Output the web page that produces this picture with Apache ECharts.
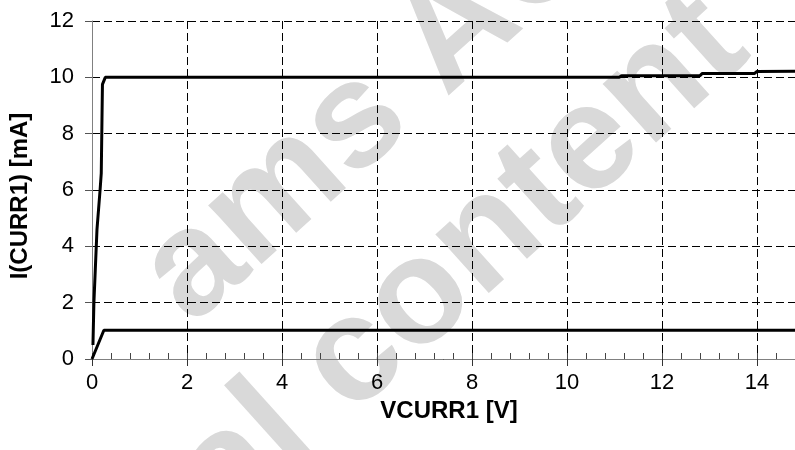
<!DOCTYPE html>
<html>
<head>
<meta charset="utf-8">
<script src="https://cdn.jsdelivr.net/npm/echarts@6/dist/echarts.min.js"></script>
<style>html,body{margin:0;padding:0;background:#fff;}#c{width:795px;height:450px;}</style>
</head>
<body>
<div id="c"></div>
<script>
// 10 mA curve
var v10 = [0.02, 0.04, 0.07, 0.105, 0.17, 0.195, 0.21, 0.22, 0.28, 11.1, 11.15, 12.8, 12.85, 13.95, 14.0, 14.8];
var i10 = [0.5, 2.0, 3.2, 4.6, 6.0, 6.6, 8.5, 9.75, 10.0, 10.0, 10.06, 10.06, 10.14, 10.14, 10.21, 10.22];
// 1 mA curve
var v1 = [0, 0.25, 14.8];
var i1 = [0, 1.02, 1.02];
var xTitle = 'VCURR1 [V]';
var yTitle = 'I(CURR1) [mA]';
var watermark1 = 'ams AG';
var watermark2 = 'Technical content';

function pairs(xs, ys) { return xs.map(function (x, k) { return [x, ys[k]]; }); }

var FONT = '"Liberation Sans", Arial, sans-serif';
var XMAX = 14.8;
var chart = echarts.init(document.getElementById('c'), null, {renderer: 'canvas'});
chart.setOption({
  animation: false,
  backgroundColor: '#fff',
  grid: {left: 90, top: 21, right: 0, bottom: 91},
  xAxis: [{
    type: 'value', min: 0, max: XMAX, interval: 2, position: 'bottom',
    name: xTitle, nameLocation: 'middle', nameGap: 38,
    nameTextStyle: {fontFamily: FONT, fontWeight: 'bold', fontSize: 24, color: '#000', padding: [0, 0, 0, 11]},
    axisLine: {show: true, lineStyle: {color: '#808080', width: 1}},
    axisTick: {show: true, length: 7, lineStyle: {color: '#333'}},
    axisLabel: {fontFamily: FONT, fontSize: 22, color: '#000', margin: 13, showMaxLabel: false},
    splitLine: {show: true, lineStyle: {color: '#000', width: 1, type: [8, 4]}}
  }, {
    type: 'value', min: 0, max: XMAX, interval: 0.4, position: 'bottom',
    axisLine: {show: false},
    axisTick: {show: true, inside: true, length: 6, lineStyle: {color: '#444'}},
    axisLabel: {show: false},
    splitLine: {show: false}
  }],
  yAxis: {
    type: 'value', min: 0, max: 12, interval: 2,
    name: yTitle, nameLocation: 'middle', nameGap: 60,
    nameTextStyle: {fontFamily: FONT, fontWeight: 'bold', fontSize: 24, color: '#000', padding: [0, 12, 0, 0]},
    axisLine: {show: true, lineStyle: {color: '#808080', width: 1}},
    axisTick: {show: true, length: 7, lineStyle: {color: '#555'}},
    axisLabel: {fontFamily: FONT, fontSize: 22, color: '#000', margin: 18},
    splitLine: {show: true, lineStyle: {color: '#000', width: 1, type: [8, 4]}}
  },
  graphic: [
    {type: 'text', x: 164, y: 296, rotation: 42 * Math.PI / 180, z: -10, silent: true,
     style: {text: watermark1, font: 'bold 150px ' + FONT, fill: '#d9d9d9', textAlign: 'left', textVerticalAlign: 'middle', align: 'left', verticalAlign: 'middle'}},
    {type: 'text', x: 256, y: 447, rotation: 42 * Math.PI / 180, z: -10, silent: true,
     style: {text: watermark2, font: 'bold 150px ' + FONT, fill: '#d9d9d9', textAlign: 'center', textVerticalAlign: 'middle', align: 'center', verticalAlign: 'middle'}}
  ],
  series: [
    {type: 'line', xAxisIndex: 0, data: pairs(v10, i10), showSymbol: false, lineStyle: {color: '#000', width: 3}, z: 5},
    {type: 'line', xAxisIndex: 0, data: pairs(v1, i1), showSymbol: false, lineStyle: {color: '#000', width: 3}, z: 5}
  ]
});
</script>
</body>
</html>
